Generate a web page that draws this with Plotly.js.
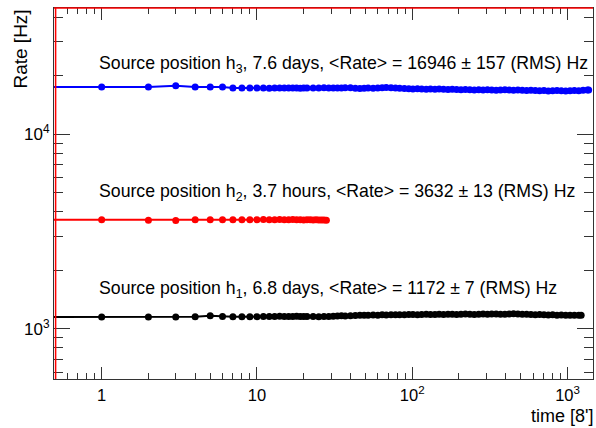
<!DOCTYPE html>
<html>
<head>
<meta charset="utf-8">
<script src="https://cdn.plot.ly/plotly-3.0.1.min.js"></script>
<style>html,body{margin:0;padding:0;background:#fff;}#chart{width:596px;height:428px;}</style>
</head>
<body>
<div id="chart"></div>
<script>
// time in units of 8 minutes; the first entry stands for the start of the run (t≈0, off the log axis)
const timeH3 = [0.1,1,2,3,4,5,6,7,8,9,10,
  11,12,13,14,15,16,17,18,19,20,
  21,23,25,27,29,31,33,35,37,40,
  43,46,49,52,56,60,64,68,73,78,
  83,89,95,101,108,115,123,131,140,149,
  159,170,181,193,206,220,235,251,268,286,
  305,325,347,370,395,421,449,479,511,545,
  581,620,661,705,752,802,855,912,973,1038,
  1107,1181,1260,1344,1368];
const rateH3 = [17500,17500,17500,17750,17500,17500,17500,17300,17300,17300,17300,
  17300,17250,17300,17280,17300,17320,17280,17300,17260,17300,
  17300,17320,17280,17350,17300,17280,17320,17300,17350,17330,
  17250,17200,17250,17300,17250,17300,17350,17400,17350,17300,
  17250,17200,17150,17100,17150,17100,17050,17100,17050,17100,
  17050,17000,17050,17000,16950,17000,16950,16900,16950,16900,
  16950,16900,16850,16900,16950,16900,16850,16900,16850,16800,
  16850,16800,16750,16800,16700,16750,16800,16750,16700,16750,
  16800,16750,16850,16900,16900];

const timeH2 = [0.1,1,2,3,4,5,6,7,8,9,10,11,12,13,14,15,16,17,18,19,20,21,22,23,24,25,26,27,28];
const rateH2 = [3640,3640,3620,3610,3640,3640,3640,3645,3640,3645,3640,
  3650,3645,3640,3650,3645,3640,3650,3645,3640,3630,
  3640,3635,3630,3640,3630,3625,3630,3620];

const timeH1 = [0.1,1,2,3,4,5,6,7,8,9,10,
  11,12,13,14,15,16,17,18,19,20,
  21,23,25,27,29,31,33,35,37,40,
  43,46,49,52,56,60,64,68,73,78,
  83,89,95,101,108,115,123,131,140,149,
  159,170,181,193,206,220,235,251,268,286,
  305,325,347,370,395,421,449,479,511,545,
  581,620,661,705,752,802,855,912,973,1038,
  1107,1181,1224];
const rateH1 = [1152,1152,1152,1152,1155,1170,1158,1155,1155,1155,1157,
  1160,1158,1160,1162,1160,1158,1160,1162,1158,1160,
  1158,1160,1155,1158,1160,1162,1165,1168,1165,1170,
  1172,1175,1178,1176,1180,1178,1182,1180,1184,1182,
  1185,1183,1186,1188,1185,1187,1190,1188,1186,1190,
  1188,1190,1192,1188,1190,1193,1190,1188,1192,1195,
  1192,1195,1193,1190,1192,1195,1198,1195,1192,1190,
  1188,1185,1187,1183,1180,1182,1178,1180,1177,1178,
  1176,1178,1175];

const labelH3 = "Source position h<sub>3</sub>, 7.6 days, &lt;Rate&gt; = 16946 ± 157 (RMS) Hz";
const labelH2 = "Source position h<sub>2</sub>, 3.7 hours, &lt;Rate&gt; = 3632 ± 13 (RMS) Hz";
const labelH1 = "Source position h<sub>1</sub>, 6.8 days, &lt;Rate&gt; = 1172 ± 7 (RMS) Hz";

const xTickVals = [1,10,100,1000];
const xTickText = ["1","10","10<sup>2</sup>","10<sup>3</sup>"];
const xMinorVals = [0.6,0.7,0.8,0.9,2,3,4,5,6,7,8,9,20,30,40,50,60,70,80,90,200,300,400,500,600,700,800,900];
const yTickVals = [1000,10000];
const yTickText = ["10<sup>3</sup>","10<sup>4</sup>"];
const yMinorVals = [600,700,800,900,2000,3000,4000,5000,6000,7000,8000,9000,20000,30000,40000];

function series(x, y, color) {
  return {
    x: x, y: y, type: 'scatter', mode: 'lines+markers',
    line: {color: color, width: 2},
    marker: {color: color, size: 7, symbol: 'circle'},
    showlegend: false, cliponaxis: true
  };
}

const data = [
  series(timeH3, rateH3, '#0000ff'),
  series(timeH2, rateH2, '#ff0000'),
  series(timeH1, rateH1, '#000000')
];

const font = 'Liberation Sans, Arial, Helvetica, sans-serif';
const axisCommon = {
  type: 'log', showgrid: false, zeroline: false,
  showline: true, linecolor: '#333', linewidth: 1, mirror: 'ticks',
  ticks: 'inside', tickcolor: '#333', tickwidth: 1,
  tickfont: {family: font, size: 17, color: '#000'},
  tickmode: 'array'
};

const layout = {
  width: 596, height: 428,
  margin: {l: 54, r: 3, t: 8, b: 49},
  paper_bgcolor: '#fff', plot_bgcolor: '#fff',
  font: {family: font, color: '#000'},
  xaxis: Object.assign({}, axisCommon, {
    range: [-0.307, 3.164],
    tickvals: xTickVals, ticktext: xTickText, ticklen: 12, ticklabelstandoff: 1,
    tickfont: {family: font, size: 16.5, color: '#000'},
    minor: {tickmode: 'array', tickvals: xMinorVals, ticks: 'inside', ticklen: 6, tickcolor: '#333', tickwidth: 1}
  }),
  yaxis: Object.assign({}, axisCommon, {
    range: [2.743, 4.649],
    tickvals: yTickVals, ticktext: yTickText, ticklen: 16,
    minor: {tickmode: 'array', tickvals: yMinorVals, ticks: 'inside', ticklen: 9, tickcolor: '#333', tickwidth: 1}
  }),
  shapes: [
    {type: 'line', xref: 'paper', yref: 'paper', x0: 0, x1: 1, y0: 1, y1: 1, line: {color: '#ff0000', width: 1.5}, layer: 'above'},
    {type: 'line', xref: 'paper', yref: 'paper', x0: 0.003, x1: 0.003, y0: 0, y1: 1, line: {color: '#ff0000', width: 1.5}, layer: 'above'}
  ],
  annotations: [
    {text: labelH3, xref: 'paper', yref: 'paper', x: 0.0798, y: 0.849, xanchor: 'left', yanchor: 'middle', showarrow: false, font: {family: font, size: 17.7, color: '#000'}},
    {text: labelH2, xref: 'paper', yref: 'paper', x: 0.0798, y: 0.502, xanchor: 'left', yanchor: 'middle', showarrow: false, font: {family: font, size: 17.7, color: '#000'}},
    {text: labelH1, xref: 'paper', yref: 'paper', x: 0.0798, y: 0.242, xanchor: 'left', yanchor: 'middle', showarrow: false, font: {family: font, size: 17.7, color: '#000'}},
    {text: 'Rate [Hz]', xref: 'paper', yref: 'paper', x: -0.063, y: 1, xanchor: 'center', yanchor: 'top', textangle: -90, showarrow: false, font: {family: font, size: 19, color: '#000'}},
    {text: "time [8']", xref: 'paper', yref: 'paper', x: 1.002, y: -0.1, xanchor: 'right', yanchor: 'middle', borderpad: 0, showarrow: false, font: {family: font, size: 18, color: '#000'}}
  ]
};

Plotly.newPlot('chart', data, layout, {staticPlot: true, displayModeBar: false});
</script>
</body>
</html>
